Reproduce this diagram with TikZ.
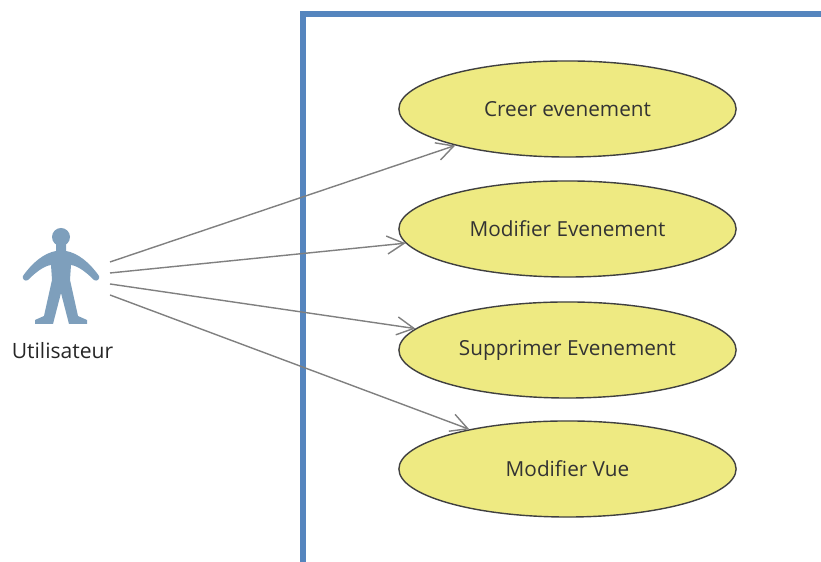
\documentclass[tikz,border=0pt]{standalone}
\usepackage{fontspec}
\setmainfont{Open Sans}
\usepackage{tikz}
\usetikzlibrary{shapes.geometric,arrows.meta}

\definecolor{framecol}{HTML}{5585BE}
\definecolor{actorcol}{HTML}{7E9FBC}
\definecolor{usecol}{HTML}{EEEA82}

\tikzset{
  usecase/.style={draw=black!75,fill=usecol,ellipse,line width=0.4pt,inner sep=0pt,
    minimum width=3.37cm,minimum height=0.96cm,
    font=\fontsize{5.9}{6}\selectfont,text=black!80},
  assoc/.style={draw=black!50,line width=0.4pt,-{Straight Barb[length=1.7mm,width=1.8mm]}}
}

\begin{document}
\begin{tikzpicture}[x=0.01cm,y=-0.01cm]
\useasboundingbox (0,0) rectangle (821,562);

%% system frame
\draw[framecol,line width=1.5pt] (303,562) -- (303,14) -- (821,14);

%% use cases
\node[usecase] (creer) at (567.5,109) {Creer evenement};
\node[usecase] (modifier) at (567.5,229) {Modifier Evenement};
\node[usecase] (supprimer) at (567.5,350) {Supprimer Evenement};
\node[usecase] (vue) at (567.5,469) {Modifier Vue};

%% actor
\fill[actorcol] (61,237) circle (9);
\fill[actorcol] (56,243) -- (66,243) -- (66,251)
  .. controls (78,253) and (90,263) .. (99,276) .. controls (100,279) and (97,282) .. (94,280)
  .. controls (86,272) and (78,266) .. (71,265) -- (70,280) -- (78,316) -- (87,320) -- (87,324) -- (69,324)
  -- (61,293) -- (53,324) -- (35,324) -- (35,320) -- (44,316) -- (52,280) -- (51,265)
  .. controls (44,266) and (36,272) .. (28,280) .. controls (25,282) and (22,279) .. (23,276)
  .. controls (32,263) and (44,253) .. (56,251) -- cycle;
\node[font=\fontsize{6}{7}\selectfont,text=black!85] (utilisateur) at (62.5,351) {Utilisateur};

%%% associations
\coordinate (a1) at (110,262);
\coordinate (a2) at (110,273);
\coordinate (a3) at (110,284);
\coordinate (a4) at (110,295);
\draw[assoc] (a1) -- (creer.198);
\draw[assoc] (a2) -- (modifier.185.7);
\draw[assoc] (a3) -- (supprimer.172);
\draw[assoc] (a4) -- (vue.158);

\end{tikzpicture}
\end{document}
